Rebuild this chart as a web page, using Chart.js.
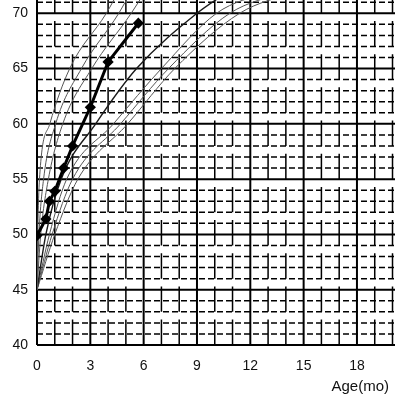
<!DOCTYPE html>
<html>
<head>
<meta charset="utf-8">
<script src="https://cdn.jsdelivr.net/npm/chart.js@4.4.1/dist/chart.umd.min.js"></script>
<style>
  html, body { margin: 0; padding: 0; background: #fff; }
  #wrap { width: 395px; height: 398px; position: relative; }
</style>
</head>
<body>
<div id="wrap"><canvas id="growth"></canvas></div>
<script>
const levelsCm = [45, 50, 55, 60, 65, 70, 72];

// age (months) at which each curve reaches the levels above
const p97Age = [0, 0.04, 0.14, 0.72, 1.84, 3.9, 4.6];
const p90Age = [0, 0.11, 0.37, 1.05, 2.5, 4.6, 5.3];
const p75Age = [0, 0.21, 0.64, 1.45, 3.08, 5.3, 6.1];
const p50Age = [0, 0.50, 1.36, 3.3, 5.6, 9.0, 10.8];
const p25Age = [0, 0.70, 1.67, 4.3, 7.0, 10.1, 13.0];
const p10Age = [0, 0.85, 2.0, 4.7, 7.4, 10.85, 14.0];
const p3Age  = [0, 1.00, 2.3, 5.1, 7.75, 11.4, 14.6];

// the measured child
const childAge = [0, 0.5, 0.7, 1, 1.5, 2, 3, 4, 5.7];
const childLen = [49.9, 51.4, 53.0, 53.9, 56.0, 58.0, 61.5, 65.6, 69.1];

const xTicks = [0, 3, 6, 9, 12, 15, 18];
const yTicks = [40, 45, 50, 55, 60, 65, 70];

const fontFamily = "'Liberation Sans', Arial, sans-serif";

function curve(ages, dark) {
    return {
        data: ages.map((a, i) => ({ x: a, y: levelsCm[i] })),
        showLine: true,
        borderColor: dark ? '#1a1a1a' : '#555',
        borderWidth: dark ? 1.4 : 1,
        pointRadius: 0,
        cubicInterpolationMode: 'monotone',
        order: 2
    };
}

function noPad(s) {
    s.paddingTop = 0;
    s.paddingBottom = 0;
    s.paddingLeft = 0;
    s.paddingRight = 0;
}

// dashed / solid grid in the style of the paper chart
const gridPlugin = {
    id: 'growthGrid',
    beforeDatasetsDraw(chart) {
        const { ctx, chartArea: a, scales: { x, y } } = chart;
        ctx.save();
        ctx.strokeStyle = '#000';

        for (let v = 40; v <= y.max; v++) {
            const py = y.getPixelForValue(v);
            ctx.beginPath();
            if (v % 5 === 0) {
                ctx.setLineDash([]);
                ctx.lineWidth = 2;
            } else {
                ctx.setLineDash([6, 3]);
                ctx.lineWidth = 1.5;
            }
            ctx.moveTo(a.left, py);
            ctx.lineTo(a.right, py);
            ctx.stroke();
        }

        ctx.setLineDash([]);
        for (let m = 0; m <= x.max; m++) {
            const px = x.getPixelForValue(m);
            ctx.beginPath();
            if (m % 3 === 0) {
                ctx.lineWidth = 2;
                ctx.moveTo(px, a.top);
                ctx.lineTo(px, a.bottom);
            } else {
                ctx.lineWidth = 1.5;
                for (let s = 40; s < y.max; s += 3) {
                    ctx.moveTo(px, y.getPixelForValue(s));
                    ctx.lineTo(px, y.getPixelForValue(Math.min(s + 2.3, y.max)));
                }
            }
            ctx.stroke();
        }
        ctx.restore();
    },
    afterDraw(chart) {
        const { ctx, scales: { x } } = chart;
        ctx.save();
        ctx.fillStyle = '#111';
        ctx.font = '15px ' + fontFamily;
        ctx.textAlign = 'right';
        ctx.textBaseline = 'middle';
        ctx.fillText('Age(mo)', x.right - 6, x.bottom - 11);
        ctx.restore();
    }
};

new Chart(document.getElementById('growth'), {
    type: 'scatter',
    data: {
        datasets: [
            curve(p97Age), curve(p90Age), curve(p75Age),
            curve(p50Age, true),
            curve(p25Age), curve(p10Age), curve(p3Age),
            {
                data: childAge.map((a, i) => ({ x: a, y: childLen[i] })),
                showLine: true,
                borderColor: '#000',
                borderWidth: 3,
                pointStyle: 'rectRot',
                pointRadius: 3.5,
                pointBackgroundColor: '#000',
                pointBorderColor: '#000',
                order: 1
            }
        ]
    },
    options: {
        responsive: true,
        maintainAspectRatio: false,
        animation: false,
        layout: { padding: 0, autoPadding: false },
        plugins: { legend: { display: false }, tooltip: { enabled: false } },
        scales: {
            x: {
                type: 'linear',
                min: 0,
                max: 20.14,
                grid: { display: false, drawTicks: false },
                border: { display: false },
                afterBuildTicks: s => { s.ticks = xTicks.map(v => ({ value: v })); },
                afterFit: s => { s.height = 53; noPad(s); },
                ticks: { padding: 13, color: '#111', font: { size: 14, family: fontFamily } }
            },
            y: {
                min: 40,
                max: 71.2,
                grid: { display: false, drawTicks: false },
                border: { display: false },
                afterBuildTicks: s => { s.ticks = yTicks.map(v => ({ value: v })); },
                afterFit: s => { s.width = 37; noPad(s); },
                ticks: { padding: 9, color: '#111', font: { size: 14, family: fontFamily } }
            }
        }
    },
    plugins: [gridPlugin]
});
</script>
</body>
</html>
